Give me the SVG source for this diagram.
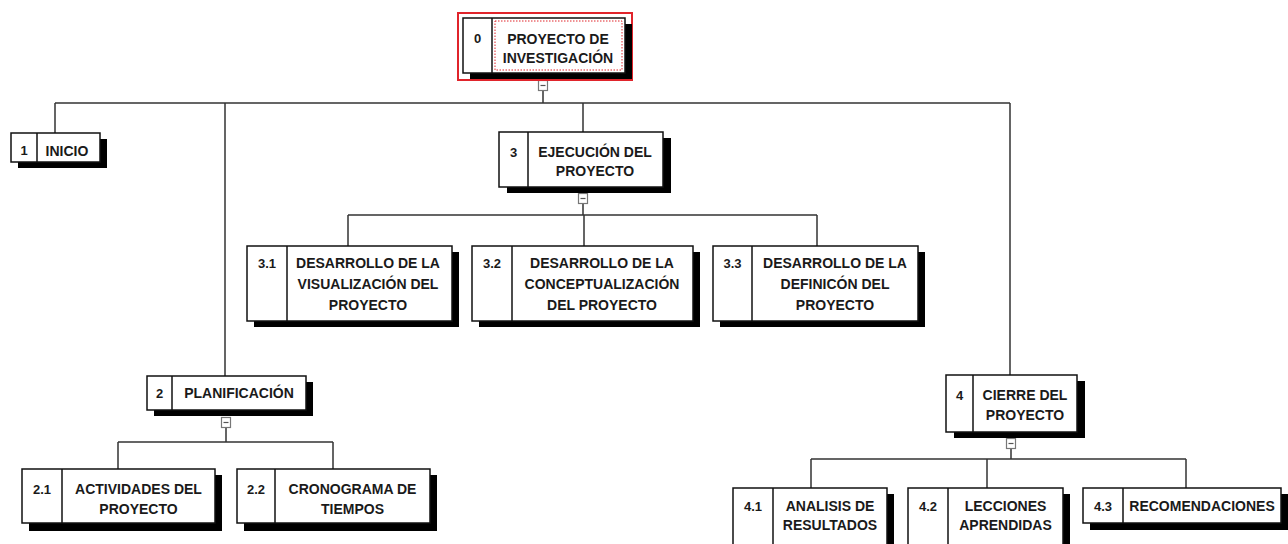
<svg xmlns="http://www.w3.org/2000/svg" width="1288" height="544" viewBox="0 0 1288 544">
<style>
.sh{fill:#000}
.bx{fill:#fff;stroke:#111;stroke-width:1.5}
.dv{stroke:#111;stroke-width:1.5}
.t{font-family:"Liberation Sans",Arial,sans-serif;font-weight:bold;font-size:14px;fill:#1a1a1a;text-anchor:middle}
.n{font-family:"Liberation Sans",Arial,sans-serif;font-weight:bold;font-size:13px;fill:#1a1a1a;text-anchor:middle}
.c{fill:none;stroke:#333;stroke-width:1.5}
.cb{fill:#fff;stroke:#777;stroke-width:1.2}
.cm{stroke:#555;stroke-width:1.2}
</style>
<rect width="1288" height="544" fill="#fff"/>
<g id="connectors">
<path class="c" d="M543 91V103M55 103H1010M55 103V133M225 103V376M583 103V132M1010 103V375"/>
<path class="c" d="M583 204V215M348 215H817M348 215V246M584 215V246M817 215V246"/>
<path class="c" d="M226 428V442M118 442H333M118 442V469M333 442V469"/>
<path class="c" d="M1011 449V459M811 459H1186M811 459V488M987 459V488M1186 459V488"/>
<g id="collapse">
<rect class="cb" x="538.5" y="80.5" width="9" height="10"/><path class="cm" d="M540.5 85.5H545.5"/>
<rect class="cb" x="578.5" y="193.5" width="9" height="10"/><path class="cm" d="M580.5 198.5H585.5"/>
<rect class="cb" x="221.5" y="417.5" width="9" height="10"/><path class="cm" d="M223.5 422.5H228.5"/>
<rect class="cb" x="1006.5" y="438.5" width="9" height="10"/><path class="cm" d="M1008.5 443.5H1013.5"/>
</g>
</g>
<g id="n0">
<rect x="458" y="13" width="174" height="67" fill="none" stroke="#e0242b" stroke-width="2"/>
<rect class="sh" x="470" y="24" width="162" height="55"/>
<rect class="bx" x="463" y="18" width="162" height="55"/>
<line class="dv" x1="492" y1="18" x2="492" y2="73"/>
<rect x="495" y="21" width="127" height="49" fill="none" stroke="#e0242b" stroke-width="1" stroke-dasharray="1.5 1.5"/>
<text class="n" x="477.5" y="43">0</text>
<text class="t" x="558" y="43.5">PROYECTO DE</text>
<text class="t" x="558" y="63">INVESTIGACIÓN</text>
</g>
<g id="n1">
<rect class="sh" x="18" y="139" width="89" height="29"/>
<rect class="bx" x="11" y="133" width="89" height="29"/>
<line class="dv" x1="37" y1="133" x2="37" y2="162"/>
<text class="n" x="24" y="155">1</text>
<text class="t" x="67" y="155.5">INICIO</text>
</g>
<g id="n3">
<rect class="sh" x="507" y="138" width="164" height="55"/>
<rect class="bx" x="499" y="132" width="164" height="55"/>
<line class="dv" x1="528" y1="132" x2="528" y2="187"/>
<text class="n" x="513.5" y="156.5">3</text>
<text class="t" x="595" y="156.5">EJECUCIÓN DEL</text>
<text class="t" x="595" y="176">PROYECTO</text>
</g>
<g id="n31">
<rect class="sh" x="254" y="252" width="205" height="75"/>
<rect class="bx" x="247" y="246" width="205" height="75"/>
<line class="dv" x1="287" y1="246" x2="287" y2="321"/>
<text class="n" x="267" y="268">3.1</text>
<text class="t" x="368" y="268">DESARROLLO DE LA</text>
<text class="t" x="368" y="289">VISUALIZACIÓN DEL</text>
<text class="t" x="368" y="309.5">PROYECTO</text>
</g>
<g id="n32">
<rect class="sh" x="479" y="252" width="221" height="75"/>
<rect class="bx" x="472" y="246" width="221" height="75"/>
<line class="dv" x1="512" y1="246" x2="512" y2="321"/>
<text class="n" x="492" y="268">3.2</text>
<text class="t" x="602" y="268">DESARROLLO DE LA</text>
<text class="t" x="602" y="289">CONCEPTUALIZACIÓN</text>
<text class="t" x="602" y="309.5">DEL PROYECTO</text>
</g>
<g id="n33">
<rect class="sh" x="720" y="252" width="205" height="75"/>
<rect class="bx" x="713" y="246" width="205" height="75"/>
<line class="dv" x1="752" y1="246" x2="752" y2="321"/>
<text class="n" x="732.5" y="268">3.3</text>
<text class="t" x="835" y="268">DESARROLLO DE LA</text>
<text class="t" x="835" y="289">DEFINICÓN DEL</text>
<text class="t" x="835" y="309.5">PROYECTO</text>
</g>
<g id="n2">
<rect class="sh" x="154" y="382" width="159" height="34"/>
<rect class="bx" x="147" y="376" width="159" height="34"/>
<line class="dv" x1="172" y1="376" x2="172" y2="410"/>
<text class="n" x="159.5" y="398">2</text>
<text class="t" x="239" y="398">PLANIFICACIÓN</text>
</g>
<g id="n21">
<rect class="sh" x="29" y="475" width="193" height="56"/>
<rect class="bx" x="22" y="469" width="193" height="54"/>
<line class="dv" x1="62" y1="469" x2="62" y2="523"/>
<text class="n" x="42" y="493.5">2.1</text>
<text class="t" x="138.5" y="493.5">ACTIVIDADES DEL</text>
<text class="t" x="138.5" y="513.5">PROYECTO</text>
</g>
<g id="n22">
<rect class="sh" x="244" y="475" width="193" height="56"/>
<rect class="bx" x="237" y="469" width="193" height="54"/>
<line class="dv" x1="275" y1="469" x2="275" y2="523"/>
<text class="n" x="256" y="493.5">2.2</text>
<text class="t" x="352.5" y="493.5">CRONOGRAMA DE</text>
<text class="t" x="352.5" y="513.5">TIEMPOS</text>
</g>
<g id="n4">
<rect class="sh" x="954" y="381" width="131" height="57"/>
<rect class="bx" x="946" y="375" width="131" height="57"/>
<line class="dv" x1="973" y1="375" x2="973" y2="432"/>
<text class="n" x="959.5" y="399.5">4</text>
<text class="t" x="1025" y="399.5">CIERRE DEL</text>
<text class="t" x="1025" y="419.5">PROYECTO</text>
</g>
<g id="n41">
<rect class="sh" x="740" y="494" width="154" height="60"/>
<rect class="bx" x="733" y="488" width="154" height="62"/>
<line class="dv" x1="773" y1="488" x2="773" y2="550"/>
<text class="n" x="753" y="510.5">4.1</text>
<text class="t" x="830" y="510.5">ANALISIS DE</text>
<text class="t" x="830" y="529.5">RESULTADOS</text>
</g>
<g id="n42">
<rect class="sh" x="915" y="494" width="155" height="60"/>
<rect class="bx" x="908" y="488" width="155" height="62"/>
<line class="dv" x1="948" y1="488" x2="948" y2="550"/>
<text class="n" x="928" y="510.5">4.2</text>
<text class="t" x="1005.5" y="510.5">LECCIONES</text>
<text class="t" x="1005.5" y="529.5">APRENDIDAS</text>
</g>
<g id="n43">
<rect class="sh" x="1090" y="494" width="198" height="36"/>
<rect class="bx" x="1083" y="488" width="198" height="35"/>
<line class="dv" x1="1123" y1="488" x2="1123" y2="523"/>
<text class="n" x="1103" y="510.5">4.3</text>
<text class="t" x="1202" y="510.5">RECOMENDACIONES</text>
</g>
</svg>
